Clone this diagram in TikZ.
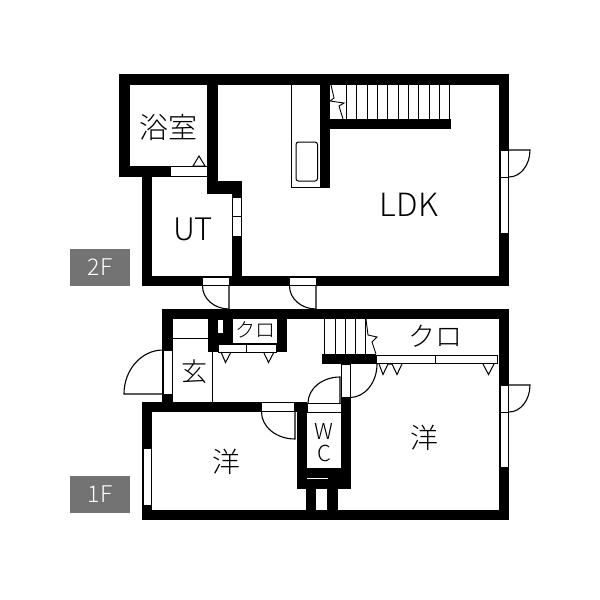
\documentclass[tikz,border=0pt]{standalone}
\usepackage{fontspec}
\setmainfont{Noto Sans CJK JP Light}
\begin{document}
\begin{tikzpicture}[x=1pt,y=-1pt,
	wall/.style={fill=black},
	opening/.style={draw=black,fill=white,line width=1pt},
	leaf/.style={draw=black,line width=1.1pt},
	fitting/.style={draw=black,line width=1pt},
	roomname/.style={inner sep=0pt,text=black,font=\fontsize{#1}{#1}\selectfont},
	floorbox/.style={fill=black!55,text=white,minimum width=60pt,minimum height=37pt,inner sep=0pt,font=\fontsize{23}{23}\selectfont}]
	\useasboundingbox[fill=white] (0,0) rectangle (600,600);

	% floor tags
	\node[floorbox] (tag2f) at (100,267) {2F};
	\node[floorbox] (tag1f) at (100,494) {1F};

	% 2F walls
	\fill[wall] (119,74) rectangle (509,85);
	\fill[wall] (119,74) rectangle (130,177);
	\fill[wall] (119,166) rectangle (207,177);
	\fill[wall] (142,166) rectangle (152,286);
	\fill[wall] (207,74) rectangle (218,194);
	\fill[wall] (207,181) rectangle (242,194);
	\fill[wall] (232,181) rectangle (242,286);
	\fill[wall] (142,276) rectangle (509,286);
	\fill[wall] (499,74) rectangle (509,286);
	\fill[wall] (320,74) rectangle (330,188);
	\fill[wall] (320,119) rectangle (451,129);

	% 2F counter
	\draw[fitting] (291,85) -- (291,187.5) -- (320,187.5);
	\draw[fitting,rounded corners=2.5pt] (296,142) rectangle (317.5,181);

	% 2F stairs
	\foreach \x in {346,356,367,377,387,398,408,418,429,439,449}
		\draw[fitting] (\x,85) -- (\x,119);
	\draw[line width=0.9pt] (331,85) -- (334,98) -- (330,101) -- (344,103) -- (339,106) -- (343,119);

	% 2F openings
	\draw[opening] (170,166.5) rectangle (207,176.5);
	\draw[opening] (232.5,197) rectangle (241,216);
	\draw[opening] (232.5,216) rectangle (241,236);
	\draw[opening] (202.5,277) rectangle (229,285.5);
	\draw[opening] (289.5,277) rectangle (316,285.5);
	\draw[opening] (500,150) rectangle (508.5,177);
	\draw[opening] (500,177) rectangle (508.5,233);
	\draw[fitting] (199,156) -- (193,166) -- (205,166) -- cycle;

	% 2F doors
	\draw[leaf] (202.5,286) arc(180:90:26.5 and 23) -- (229,286);
	\draw[leaf] (289.5,286) arc(180:90:26.5 and 23) -- (316,286);
	\draw[leaf] (509,150) -- (530,150) arc(0:90:21 and 27);

	% 1F walls
	\fill[wall] (162,309) rectangle (509,319);
	\fill[wall] (162,309) rectangle (172.5,403);
	\fill[wall] (142,402) rectangle (262,412);
	\fill[wall] (142,402) rectangle (152,520);
	\fill[wall] (142,509.5) rectangle (509,520);
	\fill[wall] (499,309) rectangle (509,520);
	\fill[wall] (294,402) rectangle (307,412);
	\fill[wall] (297,402) rectangle (307,489);
	\fill[wall] (341,364) rectangle (351,489);
	\fill[wall] (297,468) rectangle (351,489);
	\fill[wall] (306,489) rectangle (316,510);
	\fill[wall] (327,489) rectangle (338,510);
	\fill[wall] (322,354) rectangle (376,364);
	\fill[wall] (341,354) rectangle (351,398);
	\fill[wall] (208,319) rectangle (287,352);

	% 1F closet by the entrance
	\fill[white] (218,320) rectangle (222.5,333);
	\fill[white] (233,319) rectangle (276.5,342.5);
	\draw[opening] (218,344) rectangle (246.5,352);
	\draw[opening] (246.5,344) rectangle (276,352);
	\draw[fitting] (221,352) -- (225.5,362.5) -- (231,352);
	\draw[fitting] (263.5,352) -- (268.5,362.5) -- (274,352);

	% 1F entrance
	\draw[fitting] (172.5,338) -- (208,338);
	\draw[fitting] (212.5,352) -- (212.5,402);
	\draw[opening] (163,350) rectangle (172,394);
	\draw[leaf] (163,350) arc(270:180:39 and 44) -- (163,394);

	% 1F stairs
	\foreach \x in {324.5,335,345,355,365}
		\draw[fitting] (\x,319) -- (\x,354);
	\draw[line width=0.9pt] (366,319) -- (368,335) -- (377,337) -- (372,342) -- (376,354);

	% 1F closet by the stairs
	\draw[opening] (376,355) rectangle (435.5,363.5);
	\draw[opening] (435.5,355) rectangle (497,363.5);
	\draw[fitting] (379,364) -- (383,374.5) -- (388,364) -- (392,364) -- (397,374.5) -- (402,364);
	\draw[fitting] (483,364) -- (488.5,374.5) -- (494,364);

	% 1F openings
	\draw[opening] (261.5,402.5) rectangle (294.5,411.5);
	\draw[opening] (307,403) rectangle (341,412);
	\draw[opening] (341,364.5) rectangle (350,397.5);
	\draw[opening] (143.5,448) rectangle (151,505);
	\draw[opening] (500,385) rectangle (508.5,412);
	\draw[opening] (500,412) rectangle (508.5,467);
	\draw[white,line width=0.4pt] (307,478) -- (328,478);

	% 1F doors
	\draw[leaf] (261.5,412) arc(180:90:33.5 and 27) -- (295,412);
	\draw[leaf] (308,403) arc(180:270:32 and 26) -- (340,403);
	\draw[leaf] (377,364) arc(0:90:27 and 33.5);
	\draw[leaf] (509,385) -- (530,385) arc(0:90:21 and 27);

	% room names
	\node[roomname=29] (bath) at (168,127) {浴室};
	\node[roomname=31] (ut) at (193,229) {UT};
	\node[roomname=32] (ldk) at (409,205) {LDK};
	\node[roomname=20] (closeta) at (255,330) {クロ};
	\node[roomname=27] (closetb) at (435,336) {クロ};
	\node[roomname=26] (entry) at (194,372) {玄};
	\node[roomname=28] (rooma) at (226,462) {洋};
	\node[roomname=28] (roomb) at (424,438) {洋};
	\node[roomname=22] (wcw) at (324,431) {W};
	\node[roomname=22] (wcc) at (324,453) {C};
\end{tikzpicture}
\end{document}
